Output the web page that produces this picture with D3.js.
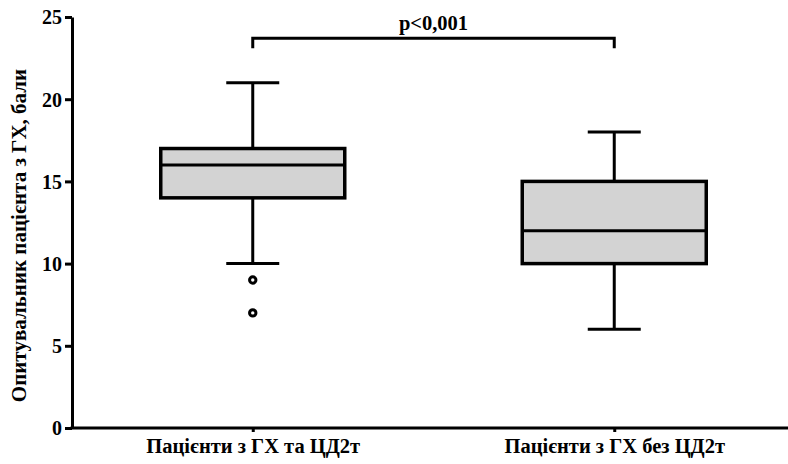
<!DOCTYPE html>
<html>
<head>
<meta charset="utf-8">
<script src="https://cdn.jsdelivr.net/npm/d3@7"></script>
<style>
  body { margin: 0; background: white; }
  svg { font-family: "Liberation Serif", "DejaVu Serif", serif; font-weight: bold; }
</style>
</head>
<body>
<svg width="788" height="464"></svg>
<script>
const groups = ["Пацієнти з ГХ та ЦД2т", "Пацієнти з ГХ без ЦД2т"]
const whiskerLow = [10, 6]
const q1 = [14, 10]
const median = [16, 12]
const q3 = [17, 15]
const whiskerHigh = [21, 18]
const outliers = [[9, 7], []]
const yTicks = [0, 5, 10, 15, 20, 25]
const pLabel = "p<0,001"
const bracketY = 23.7

const svg = d3.select("svg")
const width = +svg.attr("width")
const height = +svg.attr("height")
const mLeft = 72, mBottom = 428, mTop = 17

const y = d3.scaleLinear().domain([0, 25]).range([mBottom, mTop])
const x = d3.scalePoint().domain(groups).range([mLeft, 795]).padding(0.5)
const boxW = 184, capW = 53

// y axis
const yAxis = svg.append("g")
  .attr("transform", `translate(${mLeft},0)`)
  .call(d3.axisLeft(y).tickValues(yTicks).tickSize(7).tickSizeOuter(0))
yAxis.select(".domain").attr("stroke-width", 3)
yAxis.selectAll(".tick line").attr("stroke-width", 3)
yAxis.selectAll(".tick text").attr("font-size", 20).attr("x", -10).attr("dy", "0.34em")
  .style("font-family", "Liberation Serif").style("font-weight", "bold")

// x axis
const xAxis = svg.append("g")
  .attr("transform", `translate(0,${mBottom})`)
  .call(d3.axisBottom(x).tickSize(4).tickSizeOuter(0))
xAxis.select(".domain").attr("d", `M${mLeft - 1.5},0H${width}`).attr("stroke-width", 3)
xAxis.selectAll(".tick line").attr("stroke-width", 3)
xAxis.selectAll(".tick text").attr("font-size", 20.5).attr("y", 10)
  .style("font-family", "Liberation Serif").style("font-weight", "bold")

// y label
svg.append("text")
  .attr("transform", `translate(26,${(mTop + mBottom) / 2 + 13}) rotate(-90)`)
  .attr("text-anchor", "middle")
  .attr("font-size", 21)
  .text("Опитувальник пацієнта з ГХ, бали")

// boxes
const g = svg.selectAll(".box").data(groups).join("g").attr("class", "box")
g.append("line")
  .attr("x1", d => x(d)).attr("x2", d => x(d))
  .attr("y1", (d, i) => y(whiskerLow[i])).attr("y2", (d, i) => y(whiskerHigh[i]))
  .attr("stroke", "#000").attr("stroke-width", 3)
g.selectAll(".cap").data((d, i) => [[d, whiskerLow[i]], [d, whiskerHigh[i]]]).join("line")
  .attr("x1", d => x(d[0]) - capW / 2).attr("x2", d => x(d[0]) + capW / 2)
  .attr("y1", d => y(d[1])).attr("y2", d => y(d[1]))
  .attr("stroke", "#000").attr("stroke-width", 3)
g.append("rect")
  .attr("x", d => x(d) - boxW / 2).attr("width", boxW)
  .attr("y", (d, i) => y(q3[i])).attr("height", (d, i) => y(q1[i]) - y(q3[i]))
  .attr("fill", "#d3d3d3").attr("stroke", "#000").attr("stroke-width", 3.5)
g.append("line")
  .attr("x1", d => x(d) - boxW / 2).attr("x2", d => x(d) + boxW / 2)
  .attr("y1", (d, i) => y(median[i])).attr("y2", (d, i) => y(median[i]))
  .attr("stroke", "#000").attr("stroke-width", 3)
g.selectAll("circle").data((d, i) => outliers[i].map(v => [d, v])).join("circle")
  .attr("cx", d => x(d[0])).attr("cy", d => y(d[1])).attr("r", 3.2)
  .attr("fill", "#fff").attr("stroke", "#000").attr("stroke-width", 3)

// significance bracket
const by = y(bracketY)
svg.append("path")
  .attr("d", `M${x(groups[0])},${by + 10}V${by}H${x(groups[1])}V${by + 10}`)
  .attr("fill", "none").attr("stroke", "#000").attr("stroke-width", 3)
svg.append("text")
  .attr("x", (x(groups[0]) + x(groups[1])) / 2).attr("y", by - 8)
  .attr("text-anchor", "middle").attr("font-size", 20.5)
  .text(pLabel)
</script>
</body>
</html>
